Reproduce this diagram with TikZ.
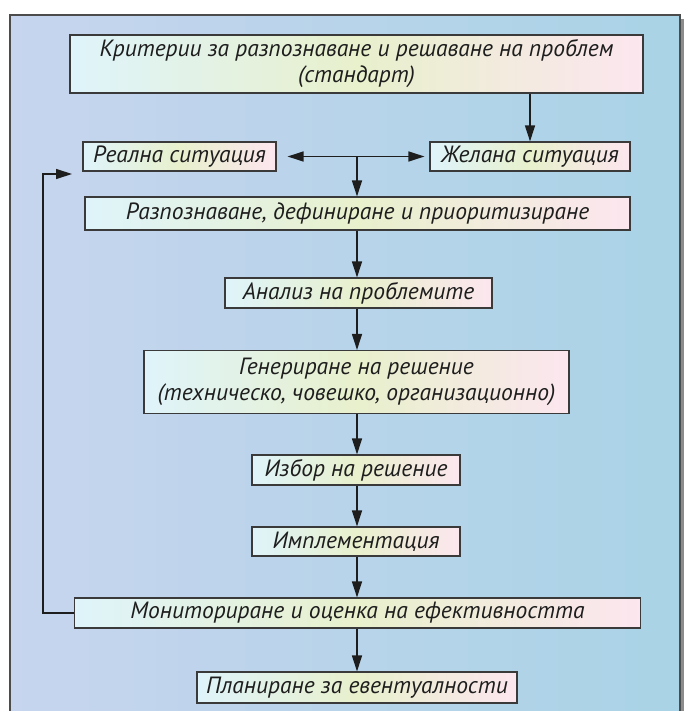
\documentclass[tikz,border=0pt]{standalone}
\usepackage{fontspec}
\setmainfont{PT Sans}[Script=Cyrillic,Language=Bulgarian]
\usetikzlibrary{arrows.meta,calc}
\definecolor{bgL}{HTML}{C7D5EE}
\definecolor{bgR}{HTML}{A9D3E6}
\definecolor{bxL}{HTML}{DFF4FB}
\definecolor{bxM}{HTML}{E8F0CC}
\definecolor{bxR}{HTML}{FCE6EF}
\definecolor{ink}{HTML}{1E1E1E}
\definecolor{edge}{HTML}{3A3A3A}
\tikzset{
  box/.style={draw=edge, line width=1.1pt, left color=bxL, right color=bxR, middle color=bxM,
    inner sep=0pt, align=center, text=ink,
    font=\fontsize{23.5}{26}\selectfont\itshape},
  arr/.style={draw=ink, line width=1.3pt, -{Triangle[length=16pt,width=10pt]}},
  arrb/.style={draw=ink, line width=1.3pt, {Triangle[length=16pt,width=10pt]}-{Triangle[length=16pt,width=10pt]}}
}
\begin{document}
\begin{tikzpicture}[x=1pt,y=-1pt]
\useasboundingbox (0,0) rectangle (687,711);
% frame with shadow
\fill[black!45] (14,19) rectangle (684,724);
\shade[left color=bgL, right color=bgR] (10,15) rectangle (680,720);
\draw[draw=black!70, line width=1.4pt] (10,15) rectangle (680,720);
% nodes
\node[box, minimum width=573pt, minimum height=58pt] (crit) at (356.5,64) {Критерии за разпознаване и решаване на проблем\\(стандарт)};
\node[box, minimum width=193pt, minimum height=29pt] (real) at (179.5,156.5) {Реална ситуация};
\node[box, minimum width=200pt, minimum height=29pt] (want) at (530,156.5) {Желана ситуация};
\node[box, minimum width=545pt, minimum height=33pt] (recog) at (357.5,213.5) {Разпознаване, дефиниране и приоритизиране};
\node[box, minimum width=267pt, minimum height=30pt] (anal) at (358.5,293) {Анализ на проблемите};
\node[box, minimum width=425pt, minimum height=63pt] (gen) at (356.5,382) {Генериране на решение\\(техническо, човешко, организационно)};
\node[box, minimum width=208pt, minimum height=30pt] (choose) at (356,470) {Избор на решение};
\node[box, minimum width=208pt, minimum height=29pt] (impl) at (356,541.5) {Имплементация};
\node[box, minimum width=566pt, minimum height=30pt] (mon) at (357.5,613) {Мониториране и оценка на ефективността};
\node[box, minimum width=320pt, minimum height=31pt] (plan) at (357,687.5) {Планиране за евентуалности};
% connectors
\coordinate (j) at (357,156.5);
\coordinate (fbA) at (43,174);
\coordinate (fbB) at (72,174);
\draw[arr] (want.north |- crit.south) -- (want.north);
\draw[arrb, shorten <=11pt, shorten >=5pt] (real.east) -- (want.west);
\draw[arr] (j) -- (j |- recog.north);
\draw[arr] (j |- recog.south) -- (j |- anal.north);
\draw[arr] (j |- anal.south) -- (j |- gen.north);
\draw[arr] (j |- gen.south) -- (j |- choose.north);
\draw[arr] (j |- choose.south) -- (j |- impl.north);
\draw[arr] (j |- impl.south) -- (j |- mon.north);
\draw[arr] (j |- mon.south) -- (j |- plan.north);
\draw[arr] (mon.west) -| (fbA) -- (fbB);
\end{tikzpicture}
\end{document}
